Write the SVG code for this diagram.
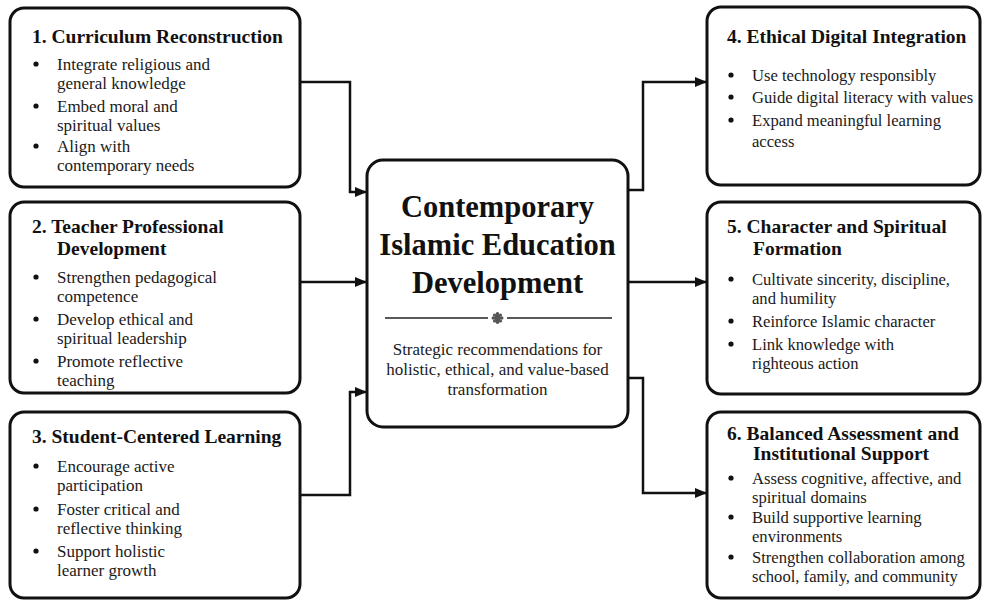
<svg xmlns="http://www.w3.org/2000/svg" width="985" height="601" viewBox="0 0 985 601">
<defs>
<marker id="arr" markerWidth="12" markerHeight="10" refX="11" refY="5" orient="auto" markerUnits="userSpaceOnUse">
<path d="M0,0 L12,5 L0,10 Z" fill="#111"/>
</marker>
<style>
.box{fill:#fff;stroke:#111;stroke-width:3}
.h{font-family:"Liberation Serif","Times New Roman",serif;font-weight:bold;font-size:19.5px;fill:#111}
.t{font-family:"Liberation Serif","Times New Roman",serif;font-size:17px;fill:#1a1a1a}
.tr{font-family:"Liberation Serif","Times New Roman",serif;font-size:16.6px;fill:#1a1a1a}
.title{font-family:"Liberation Serif","Times New Roman",serif;font-weight:bold;font-size:30.5px;fill:#111;text-anchor:middle}
.sub{font-family:"Liberation Serif","Times New Roman",serif;font-size:17px;fill:#1a1a1a;text-anchor:middle}
.dot{fill:#111}
.conn{fill:none;stroke:#111;stroke-width:2.5}
</style>
</defs>
<rect width="985" height="601" fill="#fff"/>

<g id="connectors">
<path class="conn" d="M300,82 H350 V192 H366" marker-end="url(#arr)"/>
<path class="conn" d="M300,282 H366" marker-end="url(#arr)"/>
<path class="conn" d="M300,495 H350 V392 H366" marker-end="url(#arr)"/>
<path class="conn" d="M628,190 H643 V82 H706" marker-end="url(#arr)"/>
<path class="conn" d="M628,282 H706" marker-end="url(#arr)"/>
<path class="conn" d="M628,378 H643 V493 H706" marker-end="url(#arr)"/>
</g>

<g id="center">
<rect class="box" x="367" y="160" width="261" height="267" rx="16"/>
<text class="title" x="497.5" y="217">Contemporary</text>
<text class="title" x="497.5" y="255">Islamic Education</text>
<text class="title" x="497.5" y="293">Development</text>
<line x1="385" y1="318" x2="488" y2="318" stroke="#222" stroke-width="1.5"/>
<line x1="507" y1="318" x2="612" y2="318" stroke="#222" stroke-width="1.5"/>
<g fill="#555">
<circle cx="497.5" cy="318" r="3.2"/>
<circle cx="497.5" cy="313.8" r="1.8"/>
<circle cx="497.5" cy="322.2" r="1.8"/>
<circle cx="493.3" cy="318" r="1.8"/>
<circle cx="501.7" cy="318" r="1.8"/>
<circle cx="494.5" cy="315" r="1.6"/>
<circle cx="500.5" cy="315" r="1.6"/>
<circle cx="494.5" cy="321" r="1.6"/>
<circle cx="500.5" cy="321" r="1.6"/>
</g>
<text class="sub" x="497.5" y="355">Strategic recommendations for</text>
<text class="sub" x="497.5" y="375">holistic, ethical, and value-based</text>
<text class="sub" x="497.5" y="395">transformation</text>
</g>

<g id="box1">
<rect class="box" x="10" y="8" width="290" height="179" rx="14"/>
<text class="h" x="32" y="43">1. Curriculum Reconstruction</text>
<circle class="dot" cx="36" cy="64" r="2.6"/>
<text class="t" x="57" y="70">Integrate religious and</text>
<text class="t" x="57" y="89">general knowledge</text>
<circle class="dot" cx="36" cy="106" r="2.6"/>
<text class="t" x="57" y="112">Embed moral and</text>
<text class="t" x="57" y="130.5">spiritual values</text>
<circle class="dot" cx="36" cy="146" r="2.6"/>
<text class="t" x="57" y="152">Align with</text>
<text class="t" x="57" y="170.5">contemporary needs</text>
</g>

<g id="box2">
<rect class="box" x="10" y="202" width="290" height="191" rx="14"/>
<text class="h" x="32" y="233">2. Teacher Professional</text>
<text class="h" x="57" y="255">Development</text>
<circle class="dot" cx="36" cy="277" r="2.6"/>
<text class="t" x="57" y="283">Strengthen pedagogical</text>
<text class="t" x="57" y="302">competence</text>
<circle class="dot" cx="36" cy="319" r="2.6"/>
<text class="t" x="57" y="325">Develop ethical and</text>
<text class="t" x="57" y="343.5">spiritual leadership</text>
<circle class="dot" cx="36" cy="361" r="2.6"/>
<text class="t" x="57" y="367">Promote reflective</text>
<text class="t" x="57" y="385.5">teaching</text>
</g>

<g id="box3">
<rect class="box" x="10" y="412" width="290" height="186" rx="14"/>
<text class="h" x="32" y="443">3. Student-Centered Learning</text>
<circle class="dot" cx="36" cy="466" r="2.6"/>
<text class="t" x="57" y="472">Encourage active</text>
<text class="t" x="57" y="490.5">participation</text>
<circle class="dot" cx="36" cy="509" r="2.6"/>
<text class="t" x="57" y="515">Foster critical and</text>
<text class="t" x="57" y="533.5">reflective thinking</text>
<circle class="dot" cx="36" cy="551" r="2.6"/>
<text class="t" x="57" y="557">Support holistic</text>
<text class="t" x="57" y="576">learner growth</text>
</g>

<g id="box4">
<rect class="box" x="707" y="7" width="273" height="178" rx="14"/>
<text class="h" x="727" y="43">4. Ethical Digital Integration</text>
<circle class="dot" cx="731" cy="75" r="2.6"/>
<text class="tr" x="752" y="81">Use technology responsibly</text>
<circle class="dot" cx="731" cy="97" r="2.6"/>
<text class="tr" x="752" y="103">Guide digital literacy with values</text>
<circle class="dot" cx="731" cy="120" r="2.6"/>
<text class="tr" x="752" y="126">Expand meaningful learning</text>
<text class="tr" x="752" y="147">access</text>
</g>

<g id="box5">
<rect class="box" x="707" y="202" width="273" height="192" rx="14"/>
<text class="h" x="727" y="233">5. Character and Spiritual</text>
<text class="h" x="753" y="255">Formation</text>
<circle class="dot" cx="731" cy="279" r="2.6"/>
<text class="tr" x="752" y="285">Cultivate sincerity, discipline,</text>
<text class="tr" x="752" y="303.5">and humility</text>
<circle class="dot" cx="731" cy="321" r="2.6"/>
<text class="tr" x="752" y="327">Reinforce Islamic character</text>
<circle class="dot" cx="731" cy="344" r="2.6"/>
<text class="tr" x="752" y="350">Link knowledge with</text>
<text class="tr" x="752" y="368.5">righteous action</text>
</g>

<g id="box6">
<rect class="box" x="707" y="412" width="273" height="186" rx="14"/>
<text class="h" x="727" y="440">6. Balanced Assessment and</text>
<text class="h" x="753" y="460">Institutional Support</text>
<circle class="dot" cx="731" cy="478" r="2.6"/>
<text class="tr" x="752" y="484">Assess cognitive, affective, and</text>
<text class="tr" x="752" y="502.5">spiritual domains</text>
<circle class="dot" cx="731" cy="517" r="2.6"/>
<text class="tr" x="752" y="523">Build supportive learning</text>
<text class="tr" x="752" y="541.5">environments</text>
<circle class="dot" cx="731" cy="557" r="2.6"/>
<text class="tr" x="752" y="563">Strengthen collaboration among</text>
<text class="tr" x="752" y="581.5">school, family, and community</text>
</g>
</svg>
